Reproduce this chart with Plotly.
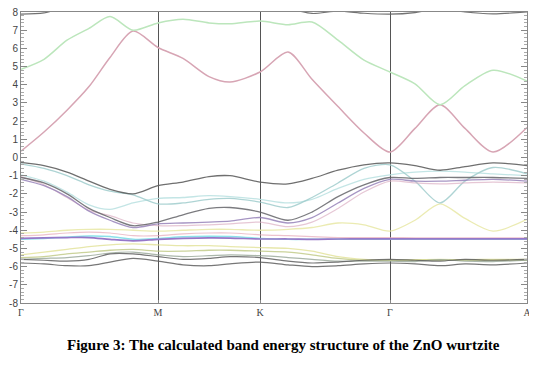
import plotly.graph_objects as go

# k-path coordinate (arbitrary units along Γ-M-K-Γ-A)
K_PATH = [0, 23, 46, 68, 89, 112, 137, 162, 188, 209, 239, 267, 291, 317, 343, 369, 394, 419, 444, 472, 506]
SYM_POS = [0, 137, 239, 369, 506]
SYM_LABELS = ["Γ", "M", "K", "Γ", "A"]
Y_TICKS = list(range(-8, 9))

# conduction bands (eV)
CB_TOP = [7.88, 7.95, 8.3, 8.6, 8.8, 8.9, 8.9, 8.8, 8.6, 8.5, 8.4, 8.2, 7.92, 8.05, 7.93, 7.88, 7.97, 8.2, 8.0, 7.9, 8.0]
CB_GREEN = [4.85, 5.4, 6.45, 7.1, 7.75, 7.0, 7.4, 7.6, 7.4, 7.35, 7.5, 7.3, 7.45, 6.45, 5.35, 4.7, 4.05, 2.9, 3.95, 4.8, 4.2]
CB_PINK = [0.35, 1.4, 2.6, 3.9, 5.5, 6.95, 6.05, 5.45, 4.45, 4.15, 4.7, 5.8, 4.3, 2.8, 1.35, 0.3, 1.6, 2.9, 1.6, 0.3, 1.65]

# upper valence bands (eV)
VB_DARK1 = [-0.27, -0.45, -0.8, -1.3, -1.75, -2.0, -1.55, -1.35, -1.05, -1.0, -1.35, -1.45, -1.15, -0.7, -0.4, -0.3, -0.45, -0.7, -0.5, -0.3, -0.45]
VB_TEAL1 = [-0.35, -0.6, -1.0, -1.5, -1.85, -2.05, -2.55, -2.5, -2.3, -2.25, -2.45, -2.75, -2.2, -1.4, -0.6, -0.4, -1.3, -2.5, -1.3, -0.55, -0.9]
VB_TEAL2 = [-0.95, -1.3, -1.9, -2.6, -2.85, -2.5, -2.25, -2.2, -2.1, -2.15, -2.3, -2.5, -2.3, -1.7, -1.2, -0.95, -0.8, -0.75, -0.8, -0.9, -1.0]
VB_DARK2 = [-1.1, -1.4, -2.0, -2.8, -3.3, -3.75, -3.55, -3.15, -2.8, -2.75, -3.0, -3.45, -3.0, -2.15, -1.5, -1.1, -1.15, -1.1, -1.1, -1.1, -1.15]
VB_PURPLE2 = [-1.2, -1.55, -2.15, -2.95, -3.45, -3.85, -3.65, -3.6, -3.55, -3.5, -3.3, -3.6, -3.3, -2.5, -1.7, -1.2, -1.3, -1.3, -1.25, -1.2, -1.3]
VB_PINK = [-1.05, -1.5, -2.2, -2.9, -3.2, -3.6, -3.75, -3.75, -3.7, -3.65, -3.55, -3.8, -3.55, -2.8, -1.9, -1.3, -1.4, -1.45, -1.4, -1.35, -1.4]
VB_YELLOW = [-4.15, -4.1, -4.0, -3.95, -3.95, -4.0, -4.05, -4.0, -3.95, -3.95, -4.0, -3.95, -3.85, -3.6, -3.7, -4.05, -3.45, -2.55, -3.35, -4.05, -3.4]
VB_PINK2 = [-4.3, -4.25, -4.15, -4.1, -4.15, -4.3, -4.3, -4.2, -4.15, -4.15, -4.25, -4.3, -4.35, -4.4, -4.4, -4.4, -4.42, -4.42, -4.42, -4.42, -4.42]
VB_CYAN = [-4.5, -4.45, -4.38, -4.32, -4.35, -4.5, -4.45, -4.36, -4.33, -4.35, -4.45, -4.5, -4.5, -4.5, -4.5, -4.5, -4.5, -4.5, -4.5, -4.5, -4.5]
VB_PURPLE = [-4.45, -4.42, -4.4, -4.4, -4.5, -4.58, -4.5, -4.45, -4.42, -4.43, -4.48, -4.48, -4.5, -4.48, -4.47, -4.47, -4.47, -4.47, -4.47, -4.47, -4.47]

# Zn-3d like bands (eV)
D_YELLOW = [-5.35, -5.2, -5.05, -4.9, -4.8, -4.75, -4.8, -4.85, -4.85, -4.9, -4.95, -5.0, -5.15, -5.45, -5.6, -5.65, -5.62, -5.6, -5.62, -5.6, -5.6]
D_OLIVE = [-5.5, -5.45, -5.3, -5.2, -5.1, -5.05, -5.15, -5.15, -5.1, -5.1, -5.15, -5.2, -5.35, -5.55, -5.65, -5.65, -5.65, -5.65, -5.65, -5.65, -5.65]
D_GREY = [-5.6, -5.55, -5.5, -5.4, -5.25, -5.2, -5.35, -5.45, -5.4, -5.35, -5.4, -5.5, -5.6, -5.7, -5.7, -5.7, -5.72, -5.62, -5.7, -5.72, -5.65]
D_DARK1 = [-5.6, -5.65, -5.7, -5.6, -5.3, -5.3, -5.45, -5.6, -5.55, -5.45, -5.5, -5.7, -5.8, -5.75, -5.65, -5.6, -5.65, -5.7, -5.6, -5.65, -5.6]
D_DARK2 = [-5.8, -5.85, -5.95, -5.95, -5.75, -5.55, -5.7, -5.9, -5.95, -5.85, -5.75, -5.9, -6.0, -5.95, -5.85, -5.8, -5.85, -5.95, -5.85, -5.9, -5.8]

bands = [
    (D_YELLOW, "rgba(225,225,150,0.8)", 1.3),
    (D_OLIVE, "rgba(190,200,130,0.8)", 1.3),
    (D_GREY, "rgba(150,165,150,0.8)", 1.2),
    (D_DARK1, "rgba(95,95,95,0.85)", 1.2),
    (D_DARK2, "rgba(95,95,95,0.85)", 1.2),
    (VB_YELLOW, "rgba(232,232,165,0.85)", 1.3),
    (VB_PINK2, "rgba(230,170,185,0.7)", 1.2),
    (VB_CYAN, "rgba(120,220,230,0.85)", 1.5),
    (VB_PURPLE, "rgba(150,120,200,1)", 1.7),
    (VB_TEAL2, "rgba(185,225,225,0.85)", 1.3),
    (VB_TEAL1, "rgba(160,205,205,0.85)", 1.3),
    (VB_PINK, "rgba(220,175,195,0.7)", 1.2),
    (VB_PURPLE2, "rgba(150,130,185,0.85)", 1.3),
    (VB_DARK2, "rgba(100,100,105,0.85)", 1.3),
    (VB_DARK1, "rgba(95,95,95,0.9)", 1.3),
    (CB_PINK, "rgba(215,165,180,1)", 1.5),
    (CB_GREEN, "rgba(188,230,188,1)", 1.5),
    (CB_TOP, "rgba(100,100,100,0.9)", 1.2),
]

fig = go.Figure()
for vals, col, w in bands:
    fig.add_trace(go.Scatter(x=K_PATH, y=vals, mode="lines",
                             line=dict(color=col, width=w, shape="spline", smoothing=0.8),
                             hoverinfo="skip", showlegend=False))

fig.update_layout(
    width=529, height=358,
    margin=dict(l=13, r=10, t=4, b=63, autoexpand=False),
    paper_bgcolor="white", plot_bgcolor="white",
    xaxis=dict(range=[SYM_POS[0], SYM_POS[-1]], tickvals=SYM_POS, ticktext=SYM_LABELS,
               showgrid=True, gridcolor="#555555", gridwidth=1.2,
               showline=True, linecolor="#888888", linewidth=1, mirror=True,
               ticks="inside", ticklen=3, tickcolor="#888888",
               tickfont=dict(family="Liberation Serif", size=10, color="#444444"),
               ticklabeloverflow="allow", automargin=False, zeroline=False),
    yaxis=dict(range=[-8, 8], tickvals=Y_TICKS, ticktext=[str(v) for v in Y_TICKS],
               showgrid=False, zeroline=False,
               showline=True, linecolor="#888888", linewidth=1, mirror="allticks",
               ticks="inside", ticklen=6, tickcolor="#888888",
               minor=dict(dtick=0.2, ticks="inside", ticklen=3, tickcolor="#aaaaaa"),
               ticklabeloverflow="allow", automargin=False,
               tickfont=dict(family="Liberation Sans", size=10, color="#444444")),
    annotations=[dict(text="<b>Figure 3: The calculated band energy structure of the ZnO wurtzite</b>",
                      xref="paper", yref="paper", x=0.518, y=-0.144, yanchor="middle", showarrow=False,
                      font=dict(family="Liberation Serif", size=15, color="black"))],
)

fig.write_html("out.html")
